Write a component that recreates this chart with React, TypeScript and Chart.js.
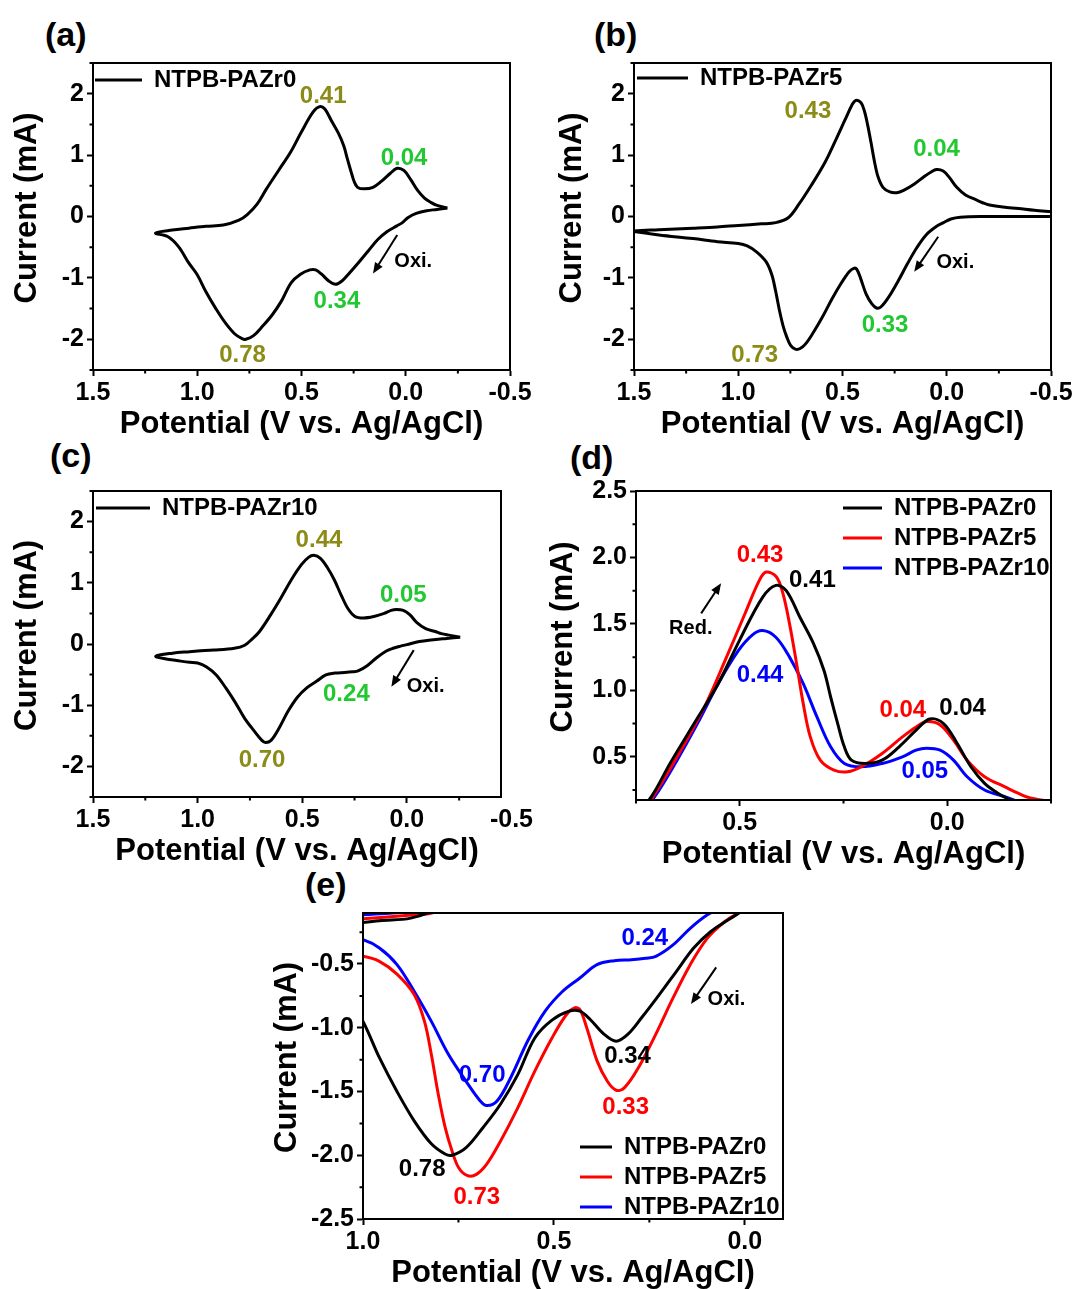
import React, { useEffect, useRef } from 'react';
import { Chart, registerables } from 'chart.js';

Chart.register(...registerables);

const FONT = "'Liberation Sans', Arial, Helvetica, sans-serif";
Chart.defaults.font.family = FONT;

type Pt = [number, number];

// ---------- DATA: cyclic voltammograms, [potential (V), current (mA)] ----------
// upper branch: right turning point -> left turning point; lower branch: left -> right
const ZR0_UPPER: Pt[] = [
  [-0.2, 0.14], [-0.15, 0.18], [-0.12, 0.23], [-0.09, 0.3], [-0.057, 0.425], [-0.024, 0.6],
  [0.009, 0.75], [0.042, 0.785], [0.075, 0.7], [0.116, 0.575], [0.157, 0.475], [0.199, 0.45],
  [0.231, 0.475], [0.248, 0.575], [0.264, 0.75], [0.281, 0.95], [0.297, 1.15], [0.322, 1.35],
  [0.355, 1.55], [0.388, 1.75], [0.413, 1.79], [0.445, 1.7], [0.5, 1.38], [0.552, 1.05],
  [0.61, 0.75], [0.668, 0.45], [0.713, 0.2], [0.76, 0.03], [0.8, -0.06], [0.875, -0.14],
  [0.957, -0.16], [1.04, -0.19], [1.12, -0.22], [1.2, -0.27],
];
const ZR0_LOWER: Pt[] = [
  [1.14, -0.33], [1.09, -0.49], [1.04, -0.76], [1.0, -0.95], [0.957, -1.235], [0.911, -1.5],
  [0.866, -1.73], [0.821, -1.91], [0.785, -1.99], [0.767, -2.0], [0.73, -1.94], [0.685, -1.78],
  [0.64, -1.6], [0.595, -1.37], [0.55, -1.08], [0.505, -0.94], [0.46, -0.87], [0.432, -0.87],
  [0.405, -0.935], [0.369, -1.05], [0.337, -1.105], [0.306, -1.05], [0.27, -0.92], [0.224, -0.74],
  [0.179, -0.557], [0.134, -0.375], [0.089, -0.245], [0.043, -0.153], [0.016, -0.1], [-0.01, -0.02],
  [-0.05, 0.05], [-0.1, 0.095], [-0.15, 0.115], [-0.2, 0.14],
];
const ZR5_UPPER: Pt[] = [
  [-0.5, 0.08], [-0.42, 0.1], [-0.344, 0.13], [-0.27, 0.155], [-0.2, 0.19], [-0.172, 0.224],
  [-0.139, 0.274], [-0.09, 0.35], [-0.048, 0.475], [-0.015, 0.625], [0.017, 0.74], [0.05, 0.765],
  [0.075, 0.725], [0.108, 0.65], [0.157, 0.525], [0.207, 0.425], [0.24, 0.387], [0.273, 0.4],
  [0.306, 0.475], [0.33, 0.65], [0.347, 0.9], [0.363, 1.2], [0.38, 1.5], [0.396, 1.73],
  [0.412, 1.855], [0.437, 1.89], [0.454, 1.82], [0.487, 1.58], [0.536, 1.22], [0.585, 0.876],
  [0.651, 0.5], [0.709, 0.2], [0.76, -0.02], [0.82, -0.1], [0.889, -0.12], [1.0, -0.145],
  [1.1, -0.17], [1.217, -0.19], [1.382, -0.215], [1.5, -0.235],
];
const ZR5_LOWER: Pt[] = [
  [1.5, -0.245], [1.38, -0.3], [1.217, -0.36], [1.1, -0.41], [1.0, -0.44], [0.957, -0.48],
  [0.911, -0.58], [0.866, -0.74], [0.839, -0.95], [0.821, -1.21], [0.803, -1.52], [0.785, -1.78],
  [0.767, -1.965], [0.749, -2.1], [0.726, -2.16], [0.703, -2.15], [0.676, -2.07], [0.64, -1.89],
  [0.595, -1.63], [0.55, -1.34], [0.505, -1.08], [0.468, -0.9], [0.446, -0.844], [0.432, -0.857],
  [0.414, -1.0], [0.387, -1.26], [0.36, -1.42], [0.337, -1.49], [0.315, -1.47], [0.278, -1.31],
  [0.233, -1.05], [0.188, -0.766], [0.143, -0.505], [0.098, -0.297], [0.052, -0.167], [0.016, -0.1],
  [-0.02, -0.04], [-0.065, -0.011], [-0.18, 0.0], [-0.344, 0.0], [-0.5, 0.0],
];
const ZR10_UPPER: Pt[] = [
  [-0.255, 0.11], [-0.2, 0.145], [-0.165, 0.17], [-0.139, 0.2], [-0.09, 0.25], [-0.048, 0.35],
  [-0.015, 0.475], [0.017, 0.55], [0.05, 0.565], [0.075, 0.55], [0.108, 0.5], [0.157, 0.45],
  [0.207, 0.425], [0.248, 0.45], [0.281, 0.575], [0.314, 0.8], [0.347, 1.05], [0.38, 1.25],
  [0.413, 1.4], [0.445, 1.45], [0.47, 1.416], [0.503, 1.3], [0.552, 1.05], [0.602, 0.75],
  [0.651, 0.475], [0.705, 0.2], [0.74, 0.08], [0.775, -0.02], [0.824, -0.07], [0.923, -0.1],
  [1.0, -0.114], [1.038, -0.125], [1.12, -0.15], [1.2, -0.2],
];
const ZR10_LOWER: Pt[] = [
  [1.15, -0.245], [1.1, -0.27], [1.038, -0.3], [1.0, -0.31], [0.957, -0.375], [0.911, -0.505],
  [0.866, -0.714], [0.821, -0.95], [0.776, -1.21], [0.73, -1.42], [0.694, -1.57], [0.676, -1.61],
  [0.649, -1.575], [0.613, -1.39], [0.568, -1.1], [0.523, -0.87], [0.477, -0.714], [0.432, -0.61],
  [0.387, -0.505], [0.342, -0.474], [0.297, -0.466], [0.26, -0.455], [0.233, -0.44], [0.188, -0.35],
  [0.143, -0.22], [0.098, -0.114], [0.066, -0.07], [0.03, -0.035], [0.0, -0.01], [-0.06, 0.04],
  [-0.115, 0.065], [-0.19, 0.09], [-0.255, 0.11],
];

const SERIES_NAMES = ['NTPB-PAZr0', 'NTPB-PAZr5', 'NTPB-PAZr10'];

// ---------- tick values ----------
const X_TICKS_ABC = [1.5, 1.0, 0.5, 0.0, -0.5];
const X_TICKS_C = [1.5, 1.0, 0.5, 0.0];
const X_EXTRA_C = [-0.5];
const X_MINOR_ABC = [1.25, 0.75, 0.25, -0.25];
const Y_TICKS_ABC = [-2, -1, 0, 1, 2];
const Y_MINOR_ABC = [-2.5, -1.5, -0.5, 0.5, 1.5, 2.5];
const X_TICKS_D = [0.5, 0.0];
const X_MINOR_D = [0.75, 0.25, -0.25];
const Y_TICKS_D = [0.5, 1.0, 1.5, 2.0, 2.5];
const Y_MINOR_D = [0.25, 0.75, 1.25, 1.75, 2.25];
const X_TICKS_E = [1.0, 0.5, 0.0];
const X_MINOR_E = [0.75, 0.25];
const Y_TICKS_E = [-2.5, -2.0, -1.5, -1.0, -0.5];
const Y_MINOR_E = [-2.25, -1.75, -1.25, -0.75, -0.25];

// ---------- colours ----------
const BLACK = '#000000';
const RED = '#ff0000';
const BLUE = '#0000ff';
const OLIVE = '#8b8b17';
const GREEN = '#22c832';

// ---------- peak labels (text, potential, current, colour) ----------
type Ann = { t: string; x: number; y: number; c: string; s?: number };
type Arrow = { x1: number; y1: number; x2: number; y2: number };

const ANN_A: Ann[] = [
  { t: '0.41', x: 0.396, y: 1.96, c: OLIVE },
  { t: '0.04', x: 0.008, y: 0.95, c: GREEN },
  { t: '0.34', x: 0.33, y: -1.39, c: GREEN },
  { t: '0.78', x: 0.783, y: -2.26, c: OLIVE },
  { t: 'Oxi.', x: -0.036, y: -0.74, c: BLACK, s: 20 },
];
const ARROW_A: Arrow[] = [{ x1: 0.041, y1: -0.3, x2: 0.157, y2: -0.93 }];
const ANN_B: Ann[] = [
  { t: '0.43', x: 0.666, y: 1.72, c: OLIVE },
  { t: '0.04', x: 0.049, y: 1.09, c: GREEN },
  { t: '0.33', x: 0.296, y: -1.77, c: GREEN },
  { t: '0.73', x: 0.921, y: -2.26, c: OLIVE },
  { t: 'Oxi.', x: -0.041, y: -0.75, c: BLACK, s: 20 },
];
const ARROW_B: Arrow[] = [{ x1: 0.041, y1: -0.33, x2: 0.156, y2: -0.9 }];
const ANN_C: Ann[] = [
  { t: '0.44', x: 0.42, y: 1.7, c: OLIVE },
  { t: '0.05', x: 0.017, y: 0.8, c: GREEN },
  { t: '0.24', x: 0.289, y: -0.83, c: GREEN },
  { t: '0.70', x: 0.692, y: -1.9, c: OLIVE },
  { t: 'Oxi.', x: -0.09, y: -0.7, c: BLACK, s: 20 },
];
const ARROW_C: Arrow[] = [{ x1: -0.033, y1: -0.1, x2: 0.074, y2: -0.7 }];
const ANN_D: Ann[] = [
  { t: '0.43', x: 0.451, y: 2.018, c: RED },
  { t: '0.41', x: 0.325, y: 1.83, c: BLACK },
  { t: '0.44', x: 0.451, y: 1.115, c: BLUE },
  { t: '0.04', x: 0.107, y: 0.85, c: RED },
  { t: '0.04', x: -0.037, y: 0.864, c: BLACK },
  { t: '0.05', x: 0.054, y: 0.387, c: BLUE },
  { t: 'Red.', x: 0.618, y: 1.466, c: BLACK, s: 20 },
];
const ARROW_D: Arrow[] = [{ x1: 0.593, y1: 1.579, x2: 0.545, y2: 1.805 }];
const ANN_E: Ann[] = [
  { t: '0.24', x: 0.262, y: -0.297, c: BLUE },
  { t: '0.70', x: 0.688, y: -1.37, c: BLUE },
  { t: '0.34', x: 0.307, y: -1.222, c: BLACK },
  { t: '0.33', x: 0.312, y: -1.626, c: RED },
  { t: '0.78', x: 0.845, y: -2.109, c: BLACK },
  { t: '0.73', x: 0.702, y: -2.33, c: RED },
  { t: 'Oxi.', x: 0.048, y: -0.779, c: BLACK, s: 20 },
];
const ARROW_E: Arrow[] = [{ x1: 0.075, y1: -0.526, x2: 0.141, y2: -0.813 }];

// ---------- helpers ----------
const loop = (upper: Pt[], lower: Pt[]) => [...upper, ...lower].map(([x, y]) => ({ x, y }));
const S0 = { name: SERIES_NAMES[0], data: loop(ZR0_UPPER, ZR0_LOWER) };
const S5 = { name: SERIES_NAMES[1], data: loop(ZR5_UPPER, ZR5_LOWER) };
const S10 = { name: SERIES_NAMES[2], data: loop(ZR10_UPPER, ZR10_LOWER) };

const TICK_SIZE = 25;
const TICK_FONT = { size: TICK_SIZE, weight: 'bold' as const, family: FONT, lineHeight: 1.2 };
const TICK_LEN = 6;
const TICK_PAD = 2;
const LEG_SIZE = 24;
const LEG_PAD = 6;
const ANN_SIZE = 24;

function drawArrow(ctx: CanvasRenderingContext2D, x1: number, y1: number, x2: number, y2: number) {
  const ang = Math.atan2(y2 - y1, x2 - x1);
  const hl = 11, hw = 4.5;
  const c = Math.cos(ang), s = Math.sin(ang);
  ctx.beginPath();
  ctx.moveTo(x1, y1);
  ctx.lineTo(x2 - c * hl * 0.7, y2 - s * hl * 0.7);
  ctx.lineWidth = 2;
  ctx.stroke();
  ctx.beginPath();
  ctx.moveTo(x2, y2);
  ctx.lineTo(x2 - c * hl + s * hw, y2 - s * hl - c * hw);
  ctx.lineTo(x2 - c * hl - s * hw, y2 - s * hl + c * hw);
  ctx.closePath();
  ctx.fill();
}

const extrasPlugin = {
  id: 'extras',
  beforeDraw(chart: any, _args: any, opts: any) {
    const lg = chart.legend;
    const ca = chart.chartArea;
    if (lg && opts.legendPos) {
      const w = lg.width, h = lg.height;
      lg.left = ca.left + opts.legendPos.dx - LEG_PAD;
      lg.top = ca.top + opts.legendPos.dy - LEG_SIZE / 2 - LEG_PAD;
      lg.right = lg.left + w;
      lg.bottom = lg.top + h;
    }
  },
  afterDraw(chart: any, _args: any, opts: any) {
    const ctx: CanvasRenderingContext2D = chart.ctx;
    const ca = chart.chartArea;
    const xs = chart.scales.x, ys = chart.scales.y;
    ctx.save();
    ctx.strokeStyle = '#000';
    ctx.fillStyle = '#000';
    ctx.lineWidth = 2;
    ctx.strokeRect(ca.left, ca.top, ca.right - ca.left, ca.bottom - ca.top);
    ctx.beginPath();
    for (const v of opts.minorX || []) {
      const px = xs.getPixelForValue(v);
      ctx.moveTo(px, ca.bottom);
      ctx.lineTo(px, ca.bottom + 3.5);
    }
    for (const v of opts.minorY || []) {
      const py = ys.getPixelForValue(v);
      ctx.moveTo(ca.left, py);
      ctx.lineTo(ca.left - 3.5, py);
    }
    ctx.stroke();
    // extra x tick label beyond the frame
    ctx.font = `bold ${TICK_SIZE}px ${FONT}`;
    ctx.textAlign = 'center';
    ctx.textBaseline = 'middle';
    for (const v of opts.extraX || []) {
      ctx.fillText(v.toFixed(1), xs.getPixelForValue(v), ca.bottom + TICK_LEN + TICK_PAD + (TICK_SIZE * 1.2) / 2);
    }
    for (const a of opts.arrows || []) {
      drawArrow(ctx, xs.getPixelForValue(a.x1), ys.getPixelForValue(a.y1), xs.getPixelForValue(a.x2), ys.getPixelForValue(a.y2));
    }
    for (const t of opts.labels || []) {
      ctx.font = `bold ${t.s || ANN_SIZE}px ${FONT}`;
      ctx.fillStyle = t.c;
      ctx.fillText(t.t, xs.getPixelForValue(t.x), ys.getPixelForValue(t.y));
    }
    ctx.restore();
  },
};

type PanelCfg = {
  canvas: { left: number; top: number; width: number; height: number };
  area: { L: number; T: number; R: number; B: number };
  xRange: [number, number];
  yRange: [number, number];
  xTicks: number[];
  yTicks: number[];
  xMinor: number[];
  yMinor: number[];
  yDec: number;
  series: { name: string; data: { x: number; y: number }[]; color: string }[];
  labels: Ann[];
  arrows: Arrow[];
  legend: { dx: number; dy: number; w: number };
  yTitlePad: number;
  xTitlePad: number;
  extraX?: number[];
};

function Panel({ cfg }: { cfg: PanelCfg }) {
  const ref = useRef<HTMLCanvasElement>(null);
  useEffect(() => {
    const { canvas: cv, area } = cfg;
    const yW = area.L - cv.left;
    const xH = cv.top + cv.height - area.B;
    const chart = new Chart(ref.current as HTMLCanvasElement, {
      type: 'scatter',
      data: {
        datasets: cfg.series.map((s) => ({
          label: s.name,
          data: s.data,
          borderColor: s.color,
          backgroundColor: s.color,
          borderWidth: 3,
          pointRadius: 0,
          pointHoverRadius: 0,
          showLine: true,
          tension: 0.35,
          clip: 0,
          fill: false,
        })),
      },
      options: {
        animation: false,
        responsive: false,
        events: [],
        layout: { padding: { left: 0, top: area.T - cv.top, right: cv.left + cv.width - area.R, bottom: 0 } },
        scales: {
          x: {
            type: 'linear',
            reverse: true,
            min: cfg.xRange[0],
            max: cfg.xRange[1],
            afterBuildTicks: (s: any) => { s.ticks = cfg.xTicks.map((v) => ({ value: v })); },
            afterFit: (s: any) => { s.height = xH; },
            ticks: {
              callback: (v: any) => Number(v).toFixed(1),
              font: TICK_FONT,
              color: '#000',
              padding: TICK_PAD,
              autoSkip: false,
              maxRotation: 0,
              minRotation: 0,
            },
            grid: { drawOnChartArea: false, drawTicks: true, tickLength: TICK_LEN, tickWidth: 2, tickColor: '#000', color: '#000' },
            border: { display: true, color: '#000', width: 2 },
            title: {
              display: true,
              text: 'Potential (V vs. Ag/AgCl)',
              font: { size: 31, weight: 'bold', family: FONT, lineHeight: 1 },
              color: '#000',
              padding: { top: 0, bottom: cfg.xTitlePad },
            },
          },
          y: {
            type: 'linear',
            min: cfg.yRange[0],
            max: cfg.yRange[1],
            afterBuildTicks: (s: any) => { s.ticks = cfg.yTicks.map((v) => ({ value: v })); },
            afterFit: (s: any) => { s.width = yW; },
            ticks: {
              callback: (v: any) => Number(v).toFixed(cfg.yDec),
              font: TICK_FONT,
              color: '#000',
              padding: 3,
              autoSkip: false,
            },
            grid: { drawOnChartArea: false, drawTicks: true, tickLength: TICK_LEN, tickWidth: 2, tickColor: '#000', color: '#000' },
            border: { display: true, color: '#000', width: 2 },
            title: {
              display: true,
              text: '  Current (mA)',
              font: { size: 31, weight: 'bold', family: FONT, lineHeight: 1 },
              color: '#000',
              padding: { top: cfg.yTitlePad, bottom: 0 },
            },
          },
        },
        plugins: {
          tooltip: { enabled: false },
          legend: {
            display: true,
            position: 'chartArea',
            align: 'start',
            labels: {
              usePointStyle: true,
              pointStyle: 'line',
              pointStyleWidth: cfg.legend.w,
              font: { size: LEG_SIZE, weight: 'bold', family: FONT },
              color: '#000',
              padding: LEG_PAD,
            },
          },
          extras: {
            minorX: cfg.xMinor,
            minorY: cfg.yMinor,
            labels: cfg.labels,
            arrows: cfg.arrows,
            legendPos: { dx: cfg.legend.dx, dy: cfg.legend.dy },
            extraX: cfg.extraX || [],
          },
        } as any,
      } as any,
      plugins: [extrasPlugin],
    });
    return () => chart.destroy();
  }, [cfg]);
  return (
    <canvas
      ref={ref}
      width={cfg.canvas.width}
      height={cfg.canvas.height}
      style={{ position: 'absolute', left: cfg.canvas.left, top: cfg.canvas.top, width: cfg.canvas.width, height: cfg.canvas.height }}
    />
  );
}

const PANELS: PanelCfg[] = [
  {
    canvas: { left: 0, top: 30, width: 540, height: 420 },
    area: { L: 93, T: 63, R: 510, B: 370 },
    xRange: [-0.5, 1.5], yRange: [-2.5, 2.5],
    xTicks: X_TICKS_ABC, yTicks: Y_TICKS_ABC, xMinor: X_MINOR_ABC, yMinor: Y_MINOR_ABC, yDec: 0,
    series: [{ ...S0, color: BLACK }],
    labels: ANN_A, arrows: ARROW_A,
    legend: { dx: 2, dy: 17, w: 47 },
    yTitlePad: 11.5, xTitlePad: 10.5,
  },
  {
    canvas: { left: 540, top: 30, width: 538, height: 420 },
    area: { L: 634, T: 63, R: 1051, B: 370 },
    xRange: [-0.5, 1.5], yRange: [-2.5, 2.5],
    xTicks: X_TICKS_ABC, yTicks: Y_TICKS_ABC, xMinor: X_MINOR_ABC, yMinor: Y_MINOR_ABC, yDec: 0,
    series: [{ ...S5, color: BLACK }],
    labels: ANN_B, arrows: ARROW_B,
    legend: { dx: 3, dy: 15, w: 51 },
    yTitlePad: 16.5, xTitlePad: 10.5,
  },
  {
    canvas: { left: 0, top: 460, width: 540, height: 417 },
    area: { L: 93, T: 491, R: 501, B: 797 },
    xRange: [-0.45, 1.5], yRange: [-2.5, 2.5],
    xTicks: X_TICKS_C, yTicks: Y_TICKS_ABC, xMinor: X_MINOR_ABC, yMinor: Y_MINOR_ABC, yDec: 0,
    series: [{ ...S10, color: BLACK }],
    labels: ANN_C, arrows: ARROW_C,
    legend: { dx: 3, dy: 17, w: 54 },
    yTitlePad: 11.5, xTitlePad: 10.5,
    extraX: X_EXTRA_C,
  },
  {
    canvas: { left: 540, top: 470, width: 538, height: 410 },
    area: { L: 636, T: 491, R: 1051, B: 800 },
    xRange: [-0.25, 0.75], yRange: [0.175, 2.5],
    xTicks: X_TICKS_D, yTicks: Y_TICKS_D, xMinor: X_MINOR_D, yMinor: Y_MINOR_D, yDec: 1,
    series: [{ ...S0, color: BLACK }, { ...S5, color: RED }, { ...S10, color: BLUE }],
    labels: ANN_D, arrows: ARROW_D,
    legend: { dx: 207, dy: 17, w: 39 },
    yTitlePad: 7.5, xTitlePad: 10.5,
  },
  {
    canvas: { left: 260, top: 880, width: 540, height: 409 },
    area: { L: 363, T: 913, R: 783, B: 1219 },
    xRange: [-0.1, 1.0], yRange: [-2.5, -0.1],
    xTicks: X_TICKS_E, yTicks: Y_TICKS_E, xMinor: X_MINOR_E, yMinor: Y_MINOR_E, yDec: 1,
    series: [{ ...S0, color: BLACK }, { ...S5, color: RED }, { ...S10, color: BLUE }],
    labels: ANN_E, arrows: ARROW_E,
    legend: { dx: 217, dy: 234, w: 32 },
    yTitlePad: 11.5, xTitlePad: 0.5,
  },
];

const LETTERS = [
  { t: '(a)', left: 45, top: 17 },
  { t: '(b)', left: 594, top: 17 },
  { t: '(c)', left: 50, top: 438 },
  { t: '(d)', left: 570, top: 440 },
  { t: '(e)', left: 305, top: 867 },
];

export default function App() {
  return (
    <div style={{ position: 'absolute', left: 0, top: 0, width: 1078, height: 1289, background: '#fff', overflow: 'hidden', fontFamily: FONT }}>
      {LETTERS.map((l) => (
        <div key={l.t} style={{ position: 'absolute', left: l.left, top: l.top, fontSize: 34, lineHeight: '34px', fontWeight: 'bold', color: '#000', whiteSpace: 'nowrap' }}>
          {l.t}
        </div>
      ))}
      {PANELS.map((p, i) => (
        <Panel key={i} cfg={p} />
      ))}
    </div>
  );
}
